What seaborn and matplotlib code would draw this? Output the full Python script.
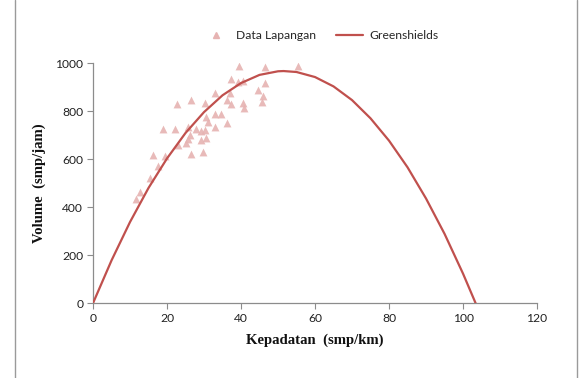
import matplotlib
matplotlib.use("Agg")
import matplotlib.pyplot as plt
import seaborn as sns
import pandas as pd
from matplotlib.lines import Line2D

# Field data (Data Lapangan)
kepadatan = [39.5, 46.6, 55.4, 37.4, 39.2, 40.5, 46.4, 44.6, 32.9, 36.9,
             45.9, 36.2, 22.7, 26.6, 30.2, 37.4, 40.5, 40.8, 45.8, 32.9,
             34.7, 30.6, 31.1, 36.1, 32.9, 18.8, 22.1, 25.7, 27.9, 30.2,
             29.3, 26.1, 30.6, 25.7, 29.3, 23.0, 25.2, 26.6, 29.7, 16.1,
             19.4, 17.6, 15.3, 12.6, 11.7]
volume = [987, 985, 988, 932, 922, 925, 918, 890, 876, 876,
          862, 846, 829, 846, 835, 828, 832, 811, 839, 790,
          790, 776, 755, 751, 735, 726, 726, 735, 724, 721,
          717, 700, 690, 682, 679, 658, 668, 621, 630, 617,
          612, 571, 520, 464, 436]

# Greenshields model curve
gs_k = [0, 5, 10, 15, 20, 25, 30, 35, 40, 45, 50, 51.5, 55, 60, 65, 70, 75,
        80, 85, 90, 95, 100, 103.4]
gs_v = [0, 178, 338, 480, 603, 709, 796, 866, 917, 951, 966, 967, 963, 942,
        903, 846, 770, 677, 566, 436, 289, 123, 0]

x_ticks = [0, 20, 40, 60, 80, 100, 120]
y_ticks = [0, 200, 400, 600, 800, 1000]

sns.set_theme(style="white")
plt.rcParams['font.family'] = ['Lato', 'DejaVu Sans']

fig = plt.figure(figsize=(5.85, 3.78), dpi=100)
ax = fig.add_axes([0.159, 0.198, 0.759, 0.635])

df_pts = pd.DataFrame({"k": kepadatan, "v": volume})
df_gs = pd.DataFrame({"k": gs_k, "v": gs_v})

pt_color = "#E6B3B2"
line_color = "#C0504D"

sns.scatterplot(data=df_pts, x="k", y="v", marker="^", s=32, color=pt_color,
                edgecolor=pt_color, linewidth=0, alpha=0.9, ax=ax, zorder=2)
sns.lineplot(data=df_gs, x="k", y="v", color=line_color, linewidth=1.6,
             ax=ax, zorder=3, sort=False)

ax.set_xlim(0, 120)
ax.set_ylim(0, 1000)
ax.set_xticks(x_ticks)
ax.set_yticks(y_ticks)
ax.tick_params(axis="both", which="both", direction="out", length=4, width=0.8,
               color="#8c8c8c", labelsize=8.7, labelcolor="#222222", pad=3,
               bottom=True, left=True)
for side in ["top", "right"]:
    ax.spines[side].set_visible(False)
for side in ["left", "bottom"]:
    ax.spines[side].set_color("#8c8c8c")
    ax.spines[side].set_linewidth(0.9)

ax.set_xlabel("Kepadatan  (smp/km)", fontfamily="Liberation Serif",
              fontweight="bold", fontsize=10.6, labelpad=7, color="#111111")
ax.set_ylabel("Volume  (smp/jam)", fontfamily="Liberation Serif",
              fontweight="bold", fontsize=10.6, labelpad=7, color="#111111")

handles = [Line2D([], [], marker="^", linestyle="none", color=pt_color,
                  markersize=5),
           Line2D([], [], color=line_color, linewidth=1.6)]
fig.legend(handles, ["Data Lapangan", "Greenshields"], loc="center",
           bbox_to_anchor=(0.548, 0.905), ncol=2, frameon=False, fontsize=8.7,
           handlelength=2.3, columnspacing=1.6, handletextpad=0.5)

# outer chart border lines
fig.add_artist(Line2D([15/585, 15/585], [0, 1], color="#9a9a9a", linewidth=1,
                      transform=fig.transFigure))
fig.add_artist(Line2D([577/585, 577/585], [0, 1], color="#9a9a9a", linewidth=1,
                      transform=fig.transFigure))

fig.savefig("out.png", dpi=100)
